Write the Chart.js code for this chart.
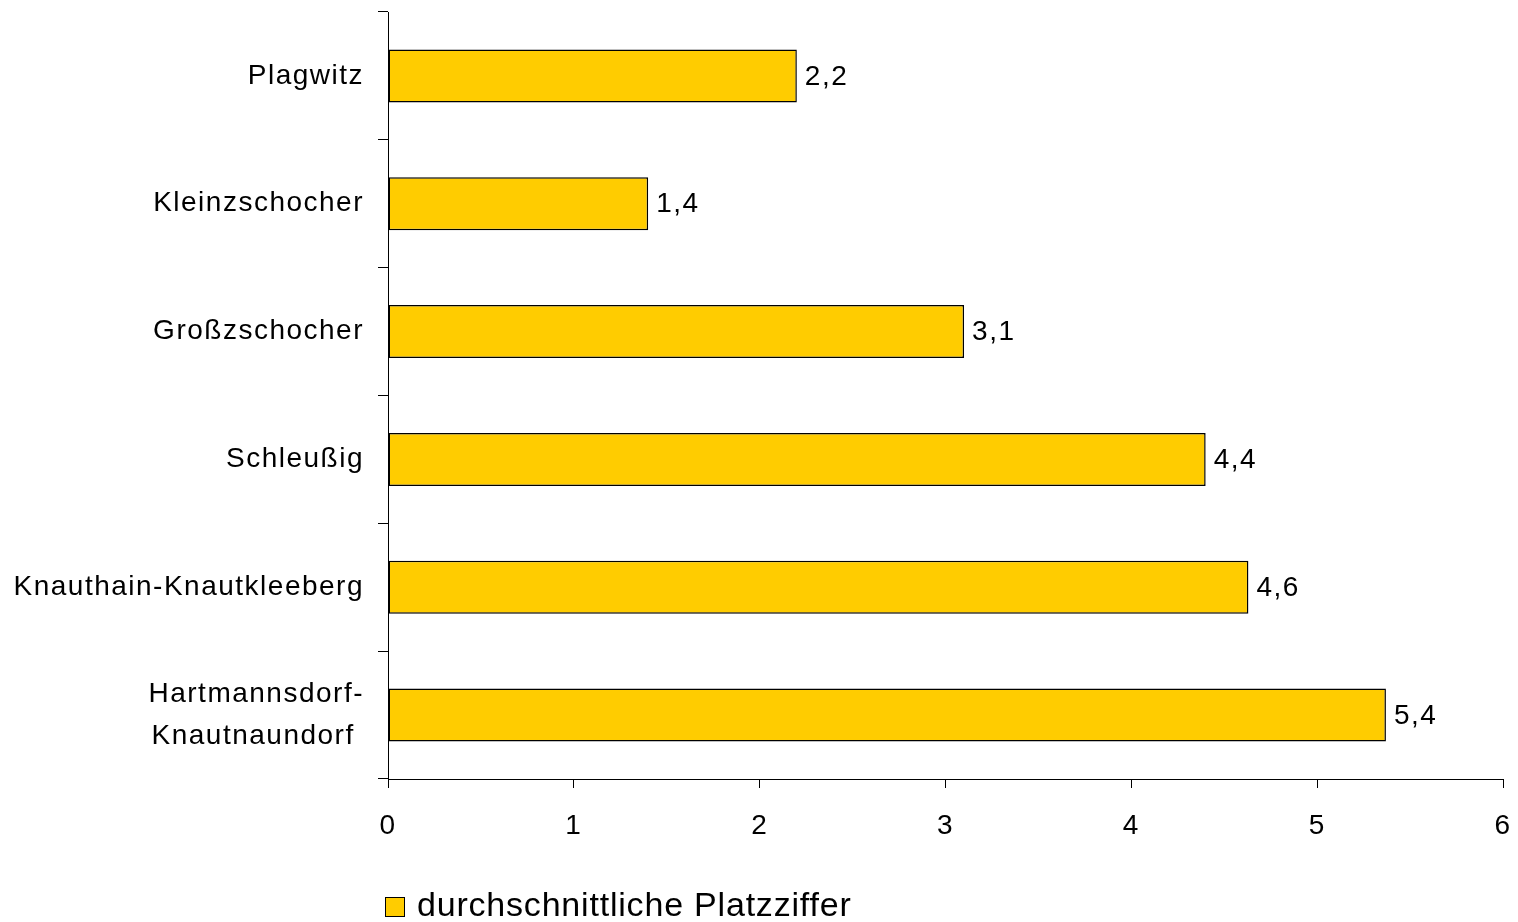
<!DOCTYPE html>
<html>
<head>
<meta charset="utf-8">
<script src="https://cdn.jsdelivr.net/npm/chart.js@4"></script>
<style>
  body { margin: 0; background: #fff; }
</style>
</head>
<body>
<canvas id="chart" width="1518" height="922"></canvas>
<script>
const districts = [
  'Plagwitz',
  'Kleinzschocher',
  'Großzschocher',
  'Schleußig',
  'Knauthain-Knautkleeberg',
  ['Hartmannsdorf-', 'Knautnaundorf ']
];
const platzziffer = [2.2, 1.4, 3.1, 4.4, 4.63, 5.37];
const xTicks = [0, 1, 2, 3, 4, 5, 6];
const seriesName = 'durchschnittliche Platzziffer';

const fontFamily = '"Liberation Sans", Arial, sans-serif';

// wider letter spacing like the original rendering
const spacing = {
  id: 'spacing',
  beforeLayout(chart) { chart.ctx.letterSpacing = '1.5px'; },
  beforeDraw(chart) { chart.ctx.letterSpacing = '1.5px'; }
};

// value labels to the right of each bar
const valueLabels = {
  id: 'valueLabels',
  afterDatasetsDraw(chart) {
    const ctx = chart.ctx;
    const meta = chart.getDatasetMeta(0);
    ctx.save();
    ctx.letterSpacing = '1.5px';
    ctx.font = '28px ' + fontFamily;
    ctx.fillStyle = '#000';
    ctx.textAlign = 'left';
    ctx.textBaseline = 'middle';
    meta.data.forEach((bar, i) => {
      const txt = platzziffer[i].toFixed(1).replace('.', ',');
      ctx.fillText(txt, bar.x + 8, bar.y + 1);
    });
    ctx.restore();
  }
};

// legend below the axis
const bottomLegend = {
  id: 'bottomLegend',
  afterDraw(chart) {
    const ctx = chart.ctx;
    const ds = chart.data.datasets[0];
    ctx.save();
    ctx.fillStyle = ds.backgroundColor;
    ctx.fillRect(385, 897, 20, 20);
    ctx.strokeStyle = '#000';
    ctx.lineWidth = 1;
    ctx.strokeRect(385.5, 897.5, 19, 19);
    ctx.letterSpacing = '0.8px';
    ctx.font = '34px ' + fontFamily;
    ctx.fillStyle = '#000';
    ctx.textBaseline = 'alphabetic';
    ctx.fillText(ds.label, 417, 916);
    ctx.restore();
  }
};

new Chart(document.getElementById('chart'), {
  type: 'bar',
  data: {
    labels: districts,
    datasets: [{
      label: seriesName,
      data: platzziffer,
      backgroundColor: '#FFCC00',
      borderColor: '#000',
      borderWidth: 1.5,
      borderSkipped: false,
      categoryPercentage: 1,
      barPercentage: 0.415
    }]
  },
  options: {
    indexAxis: 'y',
    responsive: false,
    animation: false,
    layout: { padding: { top: 12, right: 15, left: 0, bottom: 0 } },
    plugins: {
      legend: { display: false },
      tooltip: { enabled: false }
    },
    scales: {
      x: {
        min: 0,
        max: 6,
        afterBuildTicks(scale) { scale.ticks = xTicks.map(v => ({ value: v })); },
        afterFit(scale) {
          scale.height = 143;
          scale.paddingLeft = 0;
          scale.paddingRight = 0;
        },
        border: { color: '#000', width: 1 },
        grid: { drawOnChartArea: false, drawTicks: true, tickLength: 9, color: '#000' },
        ticks: {
          color: '#000',
          padding: 21,
          font: { family: fontFamily, size: 28 },
          maxRotation: 0
        }
      },
      y: {
        afterFit(scale) {
          scale.width = 388;
          scale.paddingTop = 0;
          scale.paddingBottom = 0;
        },
        border: { color: '#000', width: 1 },
        grid: { offset: true, drawOnChartArea: false, drawTicks: true, tickLength: 10, color: '#000' },
        ticks: {
          color: '#000',
          padding: 14,
          font: { family: fontFamily, size: 28, lineHeight: 1.5 }
        }
      }
    }
  },
  plugins: [spacing, valueLabels, bottomLegend]
});
</script>
</body>
</html>
